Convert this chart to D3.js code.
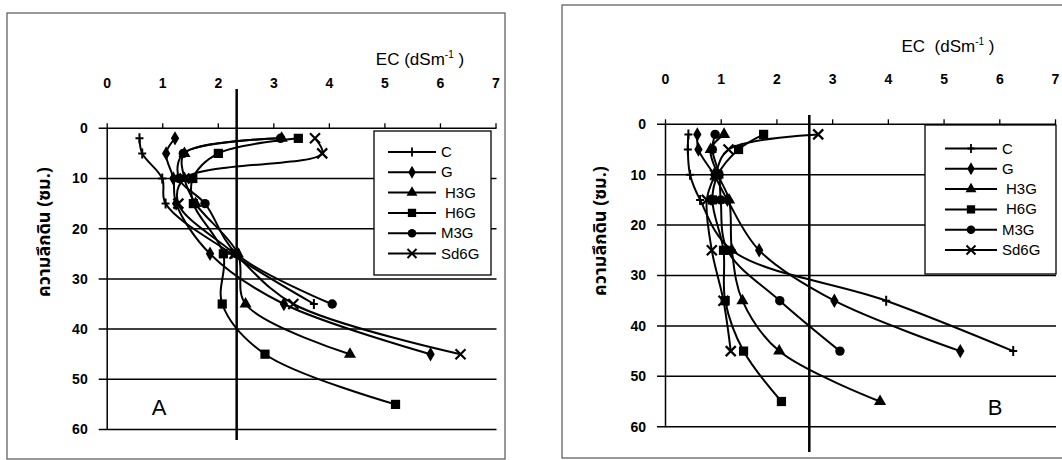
<!DOCTYPE html>
<html>
<head>
<meta charset="utf-8">
<script src="https://cdn.jsdelivr.net/npm/d3@7"></script>
<style>
	body { margin: 0; background: #fff; }
	svg { display: block; font-family: "Liberation Sans", Arial, sans-serif; }
</style>
</head>
<body>
<svg id="chart" width="1062" height="460"></svg>
<script>

// depth (cm) of each sample, EC values per treatment (null = no sample)
var seriesNames = ["C", "G", "H3G", "H6G", "M3G", "Sd6G"];
var depths = [2, 5, 10, 15, 25, 35, 45, 55];
var ecTicks = [0, 1, 2, 3, 4, 5, 6, 7];
var depthTicks = [0, 10, 20, 30, 40, 50, 60];

// panel A
var ecA_C    = [0.59, 0.64, 1.0, 1.06, 2.25, 3.73, null, null];
var ecA_G    = [1.23, 1.07, 1.2, 1.25, 1.86, 3.19, 5.83, null];
var ecA_H3G  = [3.15, 1.4, 1.4, 1.6, 2.36, 2.5, 4.38, null];
var ecA_H6G  = [3.45, 2.01, 1.55, 1.56, 2.1, 2.08, 2.85, 5.2];
var ecA_M3G  = [3.13, 1.38, 1.3, 1.77, 2.34, 4.06, null, null];
var ecA_Sd6G = [3.75, 3.88, 1.4, 1.29, 2.3, 3.36, 6.37, null];
var refA = 2.34;

// panel B
var ecB_C    = [0.42, 0.41, 0.45, 0.63, 1.2, 3.97, 6.25, null];
var ecB_G    = [0.58, 0.6, 0.88, 1.12, 1.69, 3.04, 5.3, null];
var ecB_H3G  = [1.06, 0.82, 0.95, 1.15, 1.2, 1.39, 2.05, 3.86];
var ecB_H6G  = [1.77, 1.32, 0.95, 0.85, 1.05, 1.08, 1.41, 2.09];
var ecB_M3G  = [0.9, 0.85, 0.97, 1.0, 1.12, 2.06, 3.14, null];
var ecB_Sd6G = [2.75, 1.14, 0.9, 0.75, 0.84, 1.05, 1.18, null];
var refB = 2.59;

var yTitle = "ความลึกดิน (ซม.)";

var svg = d3.select("#chart");

function drawMarker(g, name, px, py, s) {
	s = s || 1;
	var m;
	if(name == "C") {
		m = g.append("path").attr("d", "M-4,0H4M0,-5V5").attr("stroke", "#000").attr("stroke-width", 2).attr("fill", "none");
	} else if(name == "Sd6G") {
		m = g.append("path").attr("d", "M-5,-5L5,5M-5,5L5,-5").attr("stroke", "#000").attr("stroke-width", 2.2).attr("fill", "none");
	} else {
		var types = {G: d3.symbolDiamond, H3G: d3.symbolTriangle, H6G: d3.symbolSquare, M3G: d3.symbolCircle};
		var sizes = {G: 60, H3G: 64, H6G: 85, M3G: 70};
		m = g.append("path").attr("d", d3.symbol(types[name], sizes[name])()).attr("fill", "#000");
	}
	m.attr("transform", "translate(" + px + "," + py + ") scale(" + s + ")");
}

function drawPanel(p) {

	var x = d3.scaleLinear().domain([0, 7]).range([p.left, p.right]);
	var y = d3.scaleLinear().domain([0, 60]).range([p.top, p.bottom]);

	var g = svg.append("g");

	// outer frame
	g.append("rect")
		.attr("x", p.frame[0]).attr("y", p.frame[1])
		.attr("width", p.frame[2]).attr("height", p.frame[3])
		.attr("fill", "none").attr("stroke", "#555").attr("stroke-width", 1.2);

	// horizontal grid lines
	g.append("g")
		.selectAll("line")
		.data(depthTicks)
		.enter().append("line")
			.attr("x1", p.left - 8).attr("x2", p.right + 1)
			.attr("y1", function(d) { return y(d); })
			.attr("y2", function(d) { return y(d); })
			.attr("stroke", "#000").attr("stroke-width", 1.5);

	var xAxis = d3.axisTop(x).tickValues(ecTicks).tickFormat(d3.format("d"))
		.tickSize(5).tickPadding(35).tickSizeOuter(0);
	var ax = g.append("g")
		.attr("transform", "translate(0," + p.top + ")")
		.call(xAxis);
	ax.select(".domain").remove();
	ax.selectAll("line").attr("stroke-width", 1.3);
	ax.selectAll("text").attr("font-size", 14).attr("font-weight", "bold").attr("fill", "#000");

	var yAxis = d3.axisLeft(y).tickValues(depthTicks).tickSize(0).tickPadding(19);
	var ay = g.append("g")
		.attr("transform", "translate(" + p.left + ",0)")
		.call(yAxis);
	ay.select(".domain").attr("stroke-width", 1.5);
	ay.selectAll("text").attr("font-size", 14).attr("font-weight", "bold").attr("fill", "#000");

	// axis titles
	var t = g.append("text")
		.attr("x", p.titleX).attr("y", p.titleY)
		.attr("font-size", 17)
		.attr("text-anchor", "middle")
		.style("white-space", "pre");
	t.append("tspan").text(p.titleText);
	t.append("tspan").attr("dy", -7).attr("font-size", 10).text("-1");
	t.append("tspan").attr("dy", 7).text(" )");

	g.append("text")
		.attr("transform", "translate(" + p.yTitleX + "," + p.yTitleY + ") rotate(-90)")
		.attr("text-anchor", "middle")
		.attr("font-size", 18)
		.attr("font-weight", "bold")
		.attr("font-family", "'Noto Sans Thai', 'Noto Sans', 'DejaVu Sans', sans-serif")
		.text(yTitle);

	// legend box (drawn before data so lines pass over it)
	g.append("rect")
		.attr("x", p.legend[0]).attr("y", p.legend[1])
		.attr("width", p.legend[2]).attr("height", p.legend[3])
		.attr("fill", "#fff").attr("stroke", "#000").attr("stroke-width", 1.3);

	var line = d3.line()
		.x(function(d) { return x(d[1]); })
		.y(function(d) { return y(d[0]); })
		.curve(d3.curveCatmullRom.alpha(0.5));

	seriesNames.forEach(function(name, i) {
		var pts = [];
		p.series[i].forEach(function(v, j) {
			if(v !== null) pts.push([depths[j], v]);
		});

		g.append("path")
			.attr("d", line(pts))
			.attr("fill", "none").attr("stroke", "#000").attr("stroke-width", 2);

		var mg = g.append("g");
		pts.forEach(function(d) { drawMarker(mg, name, x(d[1]), y(d[0])); });

		// legend entry
		var ly = p.legendRow0 + i * p.legendStep;
		g.append("line")
			.attr("x1", p.legendLine[0]).attr("x2", p.legendLine[1])
			.attr("y1", ly).attr("y2", ly)
			.attr("stroke", "#000").attr("stroke-width", 2);
		drawMarker(g, name, (p.legendLine[0] + p.legendLine[1]) / 2, ly, 0.9);
		g.append("text")
			.attr("x", p.legendLine[1] + (name == "H3G" || name == "H6G" ? 9 : 5))
			.attr("y", ly + 5)
			.attr("font-size", 15)
			.text(name);
	});

	// reference line
	g.append("line")
		.attr("x1", x(p.ref)).attr("x2", x(p.ref))
		.attr("y1", p.refTop).attr("y2", p.refBottom)
		.attr("stroke", "#000").attr("stroke-width", 2.5);

	g.append("text")
		.attr("x", p.tagX).attr("y", p.tagY)
		.attr("font-size", 22)
		.attr("text-anchor", "middle")
		.text(p.tag);
}

drawPanel({
	left: 106.7, right: 495.5, top: 128.3, bottom: 429.5,
	frame: [7, 13, 498, 446],
	titleText: "EC (dSm", titleX: 420, titleY: 65,
	yTitleX: 50, yTitleY: 232,
	legend: [374, 131, 117, 144],
	legendRow0: 152, legendStep: 20.3, legendLine: [388, 436],
	series: [ecA_C, ecA_G, ecA_H3G, ecA_H6G, ecA_M3G, ecA_Sd6G],
	ref: refA, refTop: 89, refBottom: 440,
	tag: "A", tagX: 159, tagY: 415
});

drawPanel({
	left: 665, right: 1055, top: 124.3, bottom: 426.7,
	frame: [562, 5, 520, 453],
	titleText: "EC  (dSm", titleX: 948, titleY: 52,
	yTitleX: 606, yTitleY: 231,
	legend: [925, 125, 131, 149],
	legendRow0: 148.5, legendStep: 20.3, legendLine: [945, 997],
	series: [ecB_C, ecB_G, ecB_H3G, ecB_H6G, ecB_M3G, ecB_Sd6G],
	ref: refB, refTop: 115, refBottom: 452,
	tag: "B", tagX: 995, tagY: 415
});

</script>
</body>
</html>
